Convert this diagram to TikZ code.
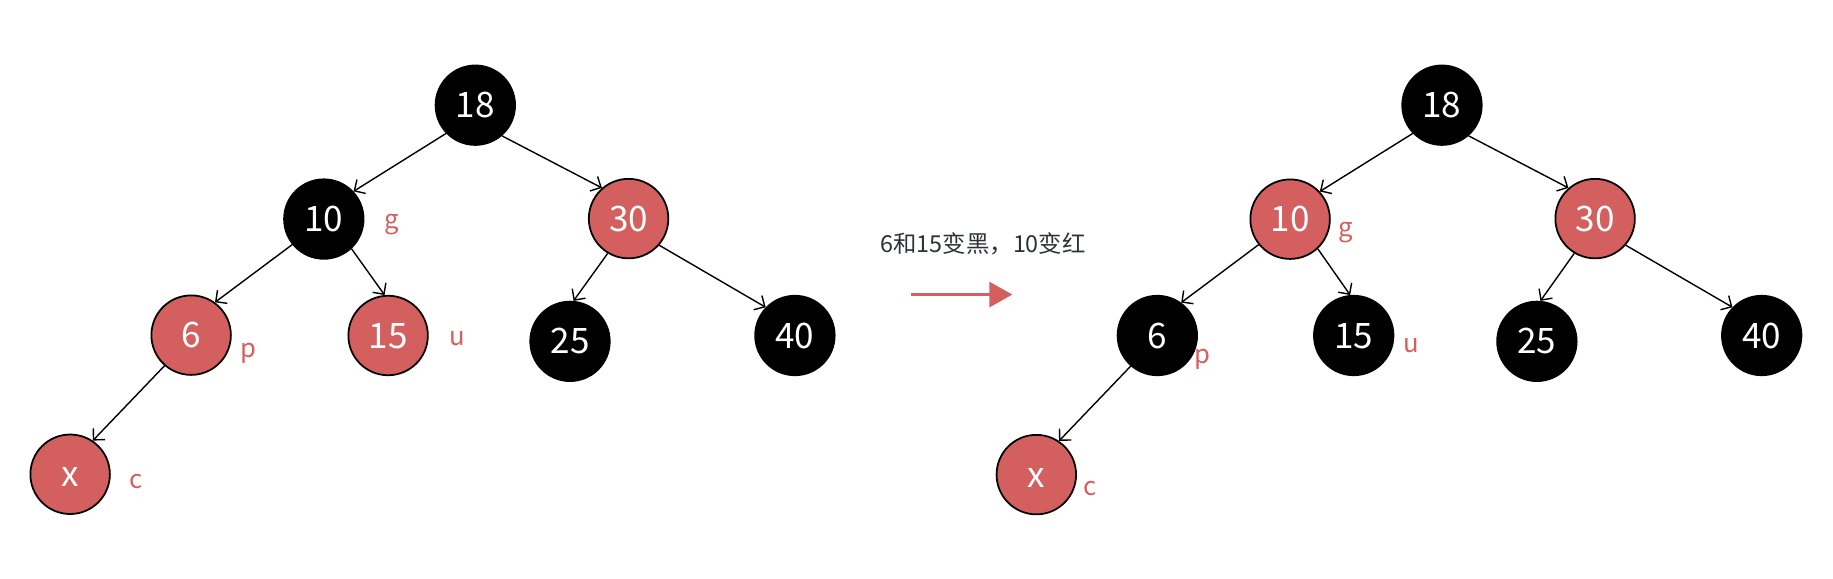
\documentclass[tikz,border=0pt]{standalone}
\usepackage{fontspec}
\setmainfont{Noto Sans CJK SC}
\usepackage{tikz}
\usetikzlibrary{arrows.meta}
\definecolor{rbred}{HTML}{D45F5F}
\definecolor{txtgray}{HTML}{2E3138}
\tikzset{every picture/.style={line width=0.6pt}}

\begin{document}
\begin{tikzpicture}[x=0.5pt,y=-0.5pt,>={Straight Barb[length=3.5pt,width=7pt]},
        every edge/.style={draw,->},
        blk/.style={circle,inner sep=0pt,minimum size=34pt,draw=black,line width=0.75pt,fill=black,text=white,
            text height=10.8pt,text depth=0pt,font=\fontsize{15}{15}\selectfont},
        rd/.style={blk,fill=rbred},
        tag/.style={inner sep=0pt,text=rbred,font=\fontsize{11}{11}\selectfont}]
        \useasboundingbox (0,0) rectangle (1568,495.3);

        % before
        \node[blk] (l18) at (406.6,90) {18};
        \node[blk] (l10) at (277,187.4) {10};
        \node[rd] (l30) at (537.7,187) {30};
        \node[rd] (l6) at (163.5,286.7) {6};
        \node[rd] (l15) at (332,287) {15};
        \node[blk] (l25) at (487.6,292) {25};
        \node[blk] (l40) at (680,287) {40};
        \node[rd] (lx) at (60,405.7) {x};
        \node[tag] (lg) at (335,192.3) {g};
        \node[tag] (lp) at (212.6,302) {p};
        \node[tag] (lu) at (391.4,289.6) {u};
        \node[tag] (lc) at (116.4,412) {c};

        \draw
            (l18.-136) edge (l10.43)
            (l18.-49) edge (l30.131)
            (l10.-141) edge (l6.54)
            (l10.-47) edge (l15.95)
            (l30.-121) edge (l25.85)
            (l30.-41) edge (l40.136)
            (l6.-131) edge (lx.56)
            ;

        % recolour
        \node[text=txtgray,font=\fontsize{10}{10}\selectfont] (say) at (841,209) {6和15变黑，10变红};
        \coordinate (go1) at (779,252);
        \coordinate (go2) at (866,252);
        \draw[rbred,line width=1.15pt,-{Triangle[length=9.8pt,width=10.7pt]}] (go1) -- (go2);

        % after
        \node[blk] (r18) at (1233.5,90) {18};
        \node[rd] (r10) at (1103.6,187.5) {10};
        \node[rd] (r30) at (1364.5,187) {30};
        \node[blk] (r6) at (990,287) {6};
        \node[blk] (r15) at (1158,287) {15};
        \node[blk] (r25) at (1314.7,292) {25};
        \node[blk] (r40) at (1507,287) {40};
        \node[rd] (rx) at (886.5,406) {x};
        \node[tag] (rg) at (1151.5,198.6) {g};
        \node[tag] (rp) at (1029,307) {p};
        \node[tag] (ru) at (1207.5,296) {u};
        \node[tag] (rc) at (932.8,418) {c};

        \draw
            (r18.-136) edge (r10.43)
            (r18.-49) edge (r30.131)
            (r10.-141) edge (r6.54)
            (r10.-47) edge (r15.95)
            (r30.-121) edge (r25.85)
            (r30.-41) edge (r40.136)
            (r6.-131) edge (rx.56)
            ;
\end{tikzpicture}
\end{document}
